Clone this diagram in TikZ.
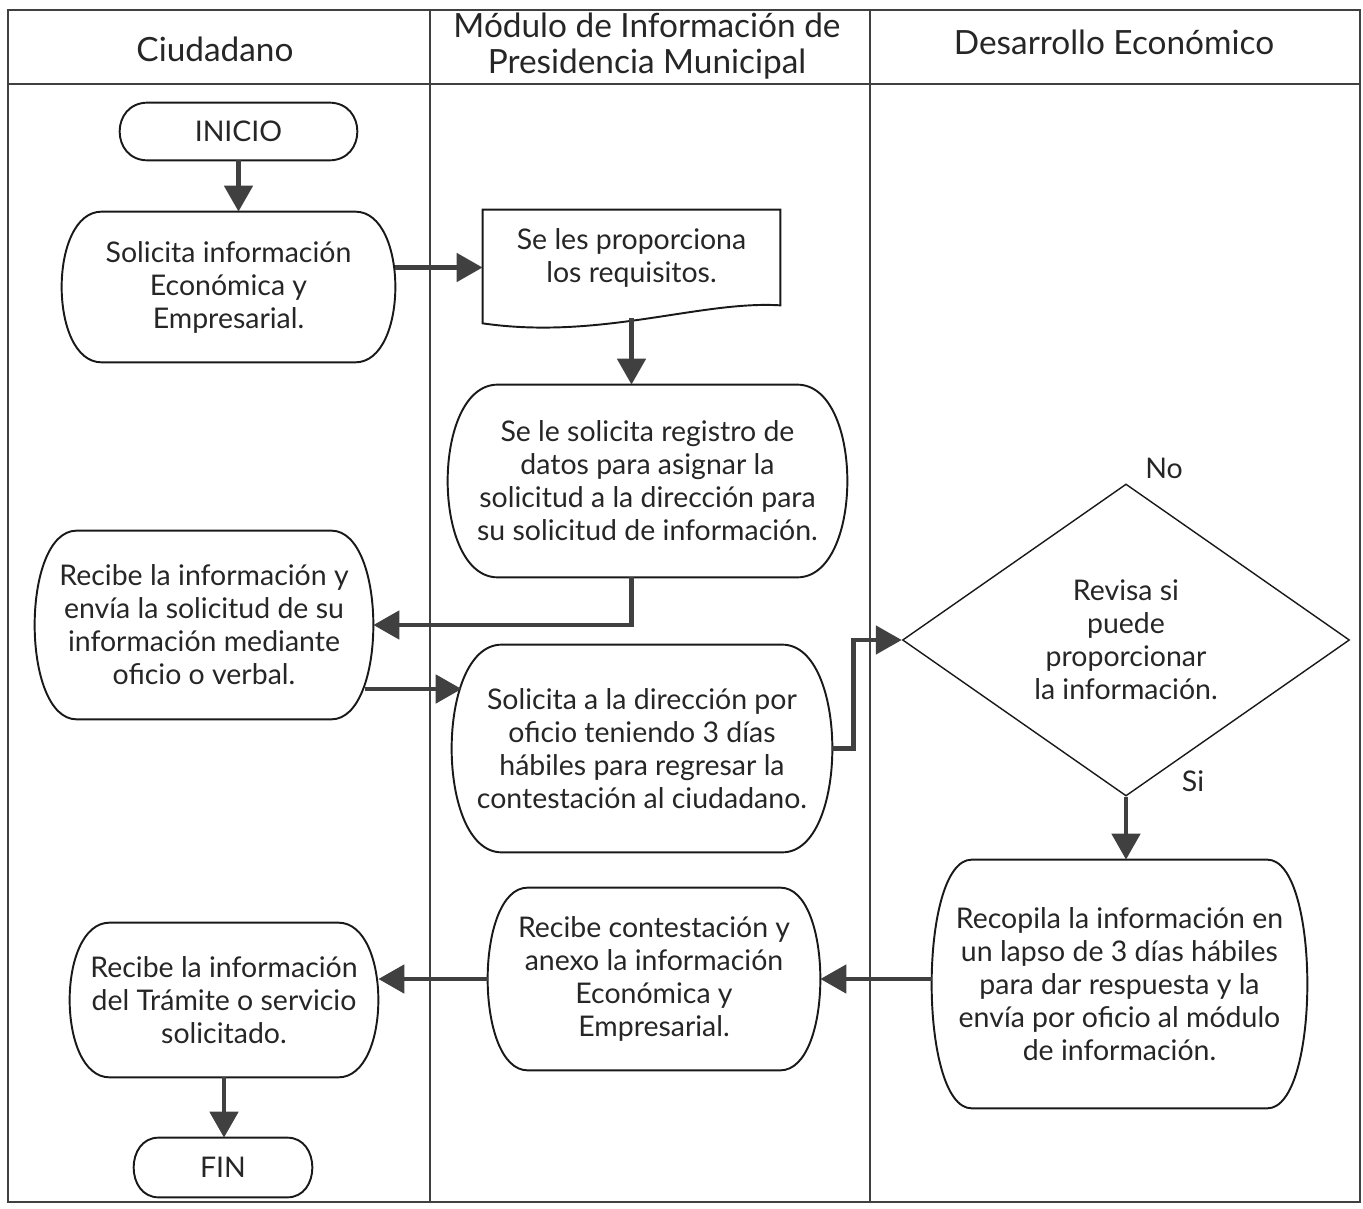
\documentclass[tikz,border=0pt]{standalone}
\usepackage{fontspec}
\setmainfont{Lato}
\usetikzlibrary{arrows.meta,shapes.geometric,calc}

% outline of a process box: straight top and bottom, bulging sides
% #1 = node name, #2 = horizontal inset of the straight edges (px units)
\newcommand{\bulgebox}[2]{%
  \draw[outline]
    ([xshift=#2*0.02cm]#1.north west) -- ([xshift=-#2*0.02cm]#1.north east)
    .. controls ([xshift=#2*0.00667cm]#1.north east) and ([xshift=#2*0.00667cm]#1.south east)
    .. ([xshift=-#2*0.02cm]#1.south east)
    -- ([xshift=#2*0.02cm]#1.south west)
    .. controls ([xshift=-#2*0.00667cm]#1.south west) and ([xshift=-#2*0.00667cm]#1.north west)
    .. ([xshift=#2*0.02cm]#1.north west) -- cycle;}

\begin{document}
\begin{tikzpicture}[x=0.02cm,y=-0.02cm,
  every node/.style={font=\fontsize{16.2}{18.8}\selectfont, align=center, inner sep=0pt, text=black!85},
  frame/.style={draw=black!75, line width=0.8pt},
  outline/.style={draw=black!90, line width=1.1pt},
  flow/.style={draw=black!75, line width=2.8pt, -{Triangle[length=0.52cm,width=0.56cm]}},
  slot/.style 2 args={rectangle, minimum width=#1*0.02cm, minimum height=#2*0.02cm},
  head/.style={font=\fontsize{19}{20.5}\selectfont},
]
\useasboundingbox (0,0) rectangle (1363,1209);

% swimlane frame
\draw[frame] (8,10) rectangle (1360,1202);
\draw[frame] (8,84) -- (1360,84);
\draw[frame] (430,10) -- (430,1202);
\draw[frame] (870,10) -- (870,1202);

% lane titles
\node[head] (hc) at (215,49) {Ciudadano};
\node[head] (hm) at (647,46) {Módulo de Información de\\Presidencia Municipal};
\node[head] (hd) at (1114,42) {Desarrollo Económico};

% steps
\node[slot={237}{57}] (inicio) at (238.5,131.5) {INICIO};
\node[slot={333}{150}] (sol1) at (228.5,287) {Solicita información\\Económica y\\Empresarial.};
\node[slot={297}{95}] (doc) at (631.5,257.5) {Se les proporciona\\los requisitos.};
\node[slot={399}{192}] (reg) at (647.5,481) {Se le solicita registro de\\datos para asignar la\\solicitud a la dirección para\\su solicitud de información.};
\node[slot={338}{188}] (rec1) at (204,625) {Recibe la información y\\envía la solicitud de su\\información mediante\\oficio o verbal.};
\node[slot={380}{207}] (sol2) at (642,748.5) {Solicita a la dirección por\\oficio teniendo 3 días\\hábiles para regresar la\\contestación al ciudadano.};
\node[diamond, aspect=1.43, minimum width=447*0.02cm, minimum height=312*0.02cm, outline, line width=0.8pt] (dia) at (1126,640) {Revisa si\\puede\\proporcionar\\la información.};
\node (no) at (1164,468) {No};
\node (si) at (1193,781) {Si};
\node[slot={375}{248}] (recop) at (1119.5,984) {Recopila la información en\\un lapso de 3 días hábiles\\para dar respuesta y la\\envía por oficio al módulo\\de información.};
\node[slot={332}{182}] (rcont) at (654,979) {Recibe contestación y\\anexo la información\\Económica y\\Empresarial.};
\node[slot={308}{154}] (rfin) at (224,1000) {Recibe la información\\del Trámite o servicio\\solicitado.};
\node[slot={178}{59}] (fin) at (223,1167.5) {FIN};

% outlines
\bulgebox{inicio}{28}
\bulgebox{sol1}{40}
\bulgebox{reg}{50}
\bulgebox{rec1}{42}
\bulgebox{sol2}{50}
\bulgebox{recop}{40}
\bulgebox{rcont}{40}
\bulgebox{rfin}{40}
\bulgebox{fin}{25}
\draw[outline] (doc.north west) -- (doc.north east) -- (doc.south east)
  .. controls ($(doc.south east)+(-80,-5)$) and ($(doc.south west)+(117,35)$)
  .. ($(doc.south west)+(0,18)$) -- cycle;

% connectors
\draw[flow] (inicio.south) -- (inicio.south |- sol1.north);
\coordinate (docin) at ($(doc.west)+(0,10)$);
\draw[flow] (sol1.east |- docin) -- (docin);
\draw[flow] ($(doc.south)+(0,13)$) -- (doc.south |- reg.north);
\draw[flow] (reg.south -| doc.south) |- (rec1.east);
\draw[flow] ($(rec1.east)+(-8,64)$) -- ($(sol2.west)+(10,-59.5)$);
\draw[flow] (sol2.east) -- ++(21,0) |- (dia.west);
\draw[flow] (dia.south) -- (dia.south |- recop.north);
\draw[flow] (recop.west |- rcont.east) -- (rcont.east);
\draw[flow] (rcont.west) -- (rcont.west -| rfin.east);
\draw[flow] (rfin.south) -- (rfin.south |- fin.north);
\end{tikzpicture}
\end{document}
